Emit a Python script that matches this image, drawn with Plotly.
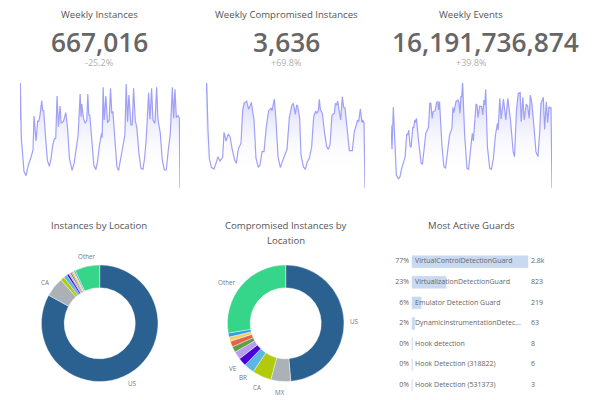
import plotly.graph_objects as go

FONT = "Open Sans"
TEXT = "#555555"
MUTED = "#b0b0b0"
SMALL = "#777777"

kpi_titles = ["Weekly Instances", "Weekly Compromised Instances", "Weekly Events"]
kpi_values = ["667,016", "3,636", "16,191,736,874"]
kpi_deltas = ["-25.2%", "+69.8%", "+39.8%"]

inst_t = [0,1,4,8,12,18,25,32,39,42,48,53,56,60,65,68,71,76,82,88,93,98,103,107,111,115,120,123,130,137,142,148,156,162,167,174,180,183,185,190,195,200,203,206,209,215,221,227,232,238,244,246,249,252,257,262,267,271,275,278,285,290,295,300,307,314,318,322,326,332,336,340,345,350,356,362,368,373,378,385,389,394,398,404,409,413,420,426,432,438,444,450,456,460,464,468,473,477,479]
inst_v = [205,317,150,95,50,38,70,90,115,217,142,203,200,220,263,233,233,160,83,66,90,130,148,150,277,185,247,195,200,227,185,90,54,75,115,160,283,215,253,210,195,205,283,220,220,145,70,56,80,130,165,152,303,205,277,197,205,300,225,231,135,65,53,80,130,160,313,200,280,190,190,300,205,180,105,60,57,90,150,287,207,300,205,195,303,207,165,85,55,55,115,165,303,210,297,212,218,210,0]

comp_t = [0,2,6,10,16,24,30,36,42,50,54,60,67,72,79,86,91,97,105,110,114,122,128,136,144,150,157,162,168,174,181,188,195,198,205,210,216,223,229,234,243,250,257,262,268,272,275,281,285,292,298,304,310,317,323,329,332,337,340,343,349,356,362,367,372,378,385,388,392,395,400,404,409,413,417,423,430,439,445,450,455,458,463,468,470,474,477]
comp_v = [285,317,175,90,63,58,75,95,82,93,168,142,163,155,115,85,75,118,135,235,255,262,237,258,205,90,63,70,110,110,185,233,240,233,268,205,95,62,80,95,117,212,248,255,222,250,247,210,100,65,57,80,90,125,215,232,225,233,267,237,225,165,125,117,130,220,225,255,250,262,225,205,275,243,242,175,113,113,170,187,205,200,238,197,205,197,0]

event_t = [0,3,7,11,16,22,27,32,42,47,50,53,57,60,65,68,71,73,76,82,90,94,100,104,112,116,119,123,126,132,136,140,142,145,152,158,163,169,175,182,185,188,194,200,203,206,209,211,214,220,227,232,238,243,246,254,257,260,265,271,274,278,280,283,288,295,300,306,312,318,320,325,329,336,343,349,357,365,369,375,380,386,389,394,398,404,408,413,416,421,427,433,439,444,448,455,459,464,468,472,476,478,481]
event_v = [190,117,243,125,40,28,35,60,93,163,160,175,127,123,183,183,205,197,210,145,75,73,130,165,183,257,255,210,230,233,258,260,235,260,130,65,60,120,160,180,243,227,260,265,258,225,277,273,317,160,60,57,120,165,142,253,250,213,247,245,220,265,250,297,125,60,57,90,160,195,175,270,208,268,205,270,205,110,95,235,285,287,200,273,205,253,247,210,280,255,185,110,95,165,255,273,177,260,197,245,240,243,0]

loc_labels = ["US", "CA", "Lime", "Sky", "Indigo", "Lavender", "Green", "Coral", "Amber", "Azure", "Other"]
loc_values = [83.0, 5.4, 1.1, 1.0, 0.6, 0.4, 0.5, 0.3, 0.4, 0.4, 6.9]

comp_labels = ["US", "MX", "CA", "BR", "VE", "Lavender", "Green", "Coral", "Amber", "Azure", "Other"]
comp_values = [48.6, 5.5, 5.3, 2.9, 2.3, 2.2, 1.6, 1.6, 1.2, 1.1, 27.7]

pie_colors = ["#2a6191", "#aab2b8", "#b3c90b", "#5cb7e3", "#4b00d8", "#b79cf0",
              "#5e9e47", "#e0654a", "#f7cf68", "#2d9bf0", "#36d68a"]

guard_names = ["VirtualControlDetectionGuard", "VirtualizationDetectionGuard",
               "Emulator Detection Guard", "DynamicInstrumentationDetec...",
               "Hook detection", "Hook Detection (318822)", "Hook Detection (531373)"]
guard_counts = [2800, 823, 219, 63, 8, 6, 3]
guard_count_text = ["2.8k", "823", "219", "63", "8", "6", "3"]
guard_pct = ["77%", "23%", "6%", "2%", "0%", "0%", "0%"]

W, H = 600, 400
def fx(p): return p / W
def fy(p): return 1 - p / H

fig = go.Figure()

spark_x = [(20, 180), (206, 365), (391, 552)]
spark_data = [(inst_t, inst_v), (comp_t, comp_v), (event_t, event_v)]
layout_axes = {}
for i, ((t, v), (x0, x1)) in enumerate(zip(spark_data, spark_x), start=1):
    suffix = "" if i == 1 else str(i)
    fig.add_trace(go.Scatter(
        x=t, y=v, xaxis=f"x{suffix}", yaxis=f"y{suffix}", mode="lines",
        line=dict(color="#a0a0f6", width=1.2), fill="tozeroy",
        fillgradient=dict(type="vertical", start=45, stop=300,
                          colorscale=[[0, "rgba(255,255,255,0)"], [1, "rgba(165,165,245,0.55)"]]),
        showlegend=False, hoverinfo="skip"))
    layout_axes[f"xaxis{suffix}"] = dict(domain=[fx(x0), fx(x1)], range=[0, max(t)], visible=False, fixedrange=True)
    layout_axes[f"yaxis{suffix}"] = dict(domain=[fy(188.3), fy(82.7)], range=[0, 317], visible=False, fixedrange=True)

R = 58.3
for labels, values, cx in [(loc_labels, loc_values, 99.7), (comp_labels, comp_values, 285.7)]:
    fig.add_trace(go.Pie(
        labels=labels, values=values, textinfo="none",
        sort=False, direction="clockwise", rotation=0, hole=0.61,
        marker=dict(colors=pie_colors, line=dict(color="#ffffff", width=0.4)),
        domain=dict(x=[fx(cx - R), fx(cx + R)], y=[fy(323.3 + R), fy(323.3 - R)]),
        showlegend=False, hoverinfo="skip", automargin=False))

row_y = list(range(len(guard_names)))
PAD = 72  # about 3 px in count units
fig.add_trace(go.Bar(x=guard_counts, y=row_y, orientation="h", width=0.58,
                     marker=dict(color="#c9d9f0", line=dict(color="#c9d9f0", width=0.5)),
                     xaxis="x4", yaxis="y4", showlegend=False, hoverinfo="skip"))
for xs, txt, pos in [([-PAD] * 7, guard_pct, "middle left"),
                     ([PAD] * 7, guard_names, "middle right"),
                     ([guard_counts[0] + PAD] * 7, guard_count_text, "middle right")]:
    fig.add_trace(go.Scatter(x=xs, y=row_y, text=txt, mode="text", textposition=pos,
                             textfont=dict(family=FONT, size=7, color="#666666"),
                             cliponaxis=False, xaxis="x4", yaxis="y4",
                             showlegend=False, hoverinfo="skip"))
layout_axes["xaxis4"] = dict(domain=[fx(378.9), fx(557)], range=[-800, 3500], visible=False, fixedrange=True)
layout_axes["yaxis4"] = dict(domain=[fy(395.6), fy(251.4)], range=[6.5, -0.5], visible=False, fixedrange=True)

ann = []
def label(x, y, text, size, color=TEXT, weight=None):
    font = dict(family=FONT, size=size, color=color)
    if weight:
        font["weight"] = weight
    ann.append(dict(x=fx(x), y=fy(y), xref="paper", yref="paper", showarrow=False, xanchor="center",
                    yanchor="middle", text=text, font=font))
title_x = [99, 286, 471]
number_x = [99.5, 286, 485]
for c, n, title, value, delta in zip(title_x, number_x, kpi_titles, kpi_values, kpi_deltas):
    label(c, 15, title, 9.6)
    label(n, 42, value, 26.3, "#666666", 600)
    label(c, 62, delta, 9, MUTED)
label(99, 225, "Instances by Location", 9.6)
label(286, 225, "Compromised Instances by", 9.6)
label(286, 240, "Location", 9.6)
label(471, 225, "Most Active Guards", 9.6)
for x, y, t in [(132, 383, "US"), (45, 282, "CA"), (87, 256, "Other"),
                (354, 321, "US"), (280, 392, "MX"), (257, 387, "CA"), (243, 377, "BR"),
                (233, 368, "VE"), (227, 282, "Other")]:
    label(x, y, t, 6.3, SMALL)

fig.update_layout(width=W, height=H, margin=dict(l=0, r=0, t=0, b=0), autosize=False,
                  paper_bgcolor="white", plot_bgcolor="white", annotations=ann,
                  font=dict(family=FONT), **layout_axes)
fig.write_html("out.html", config=dict(displayModeBar=False),
               post_script="document.body.style.margin='0';document.documentElement.style.overflow='hidden';")
